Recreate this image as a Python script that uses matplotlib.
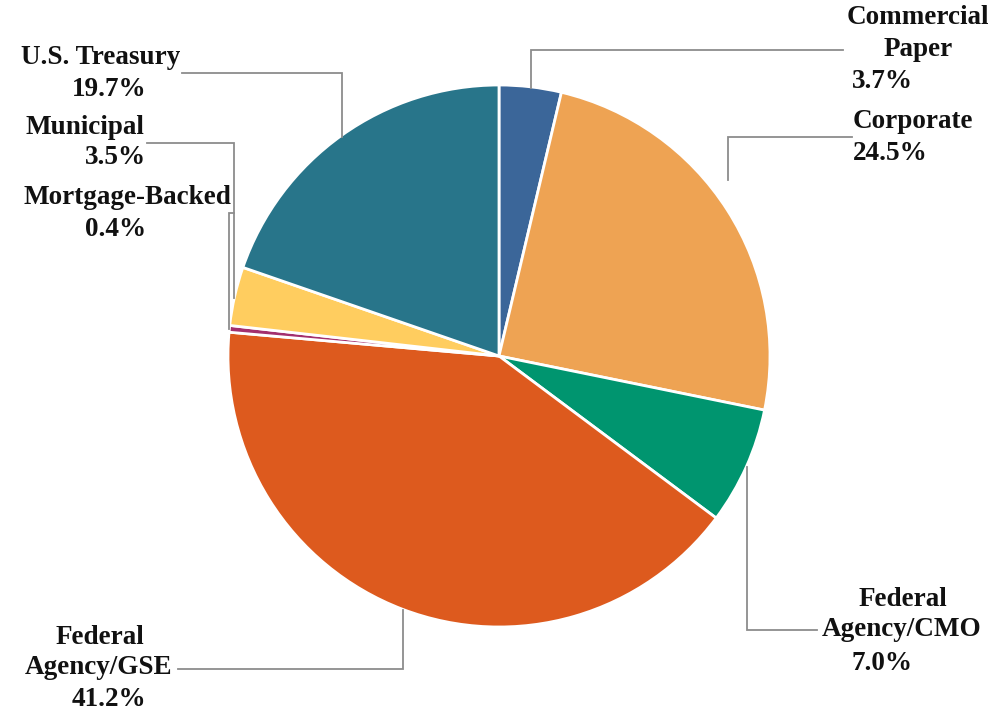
import matplotlib.pyplot as plt

# Datos
sectores = ['Commercial Paper', 'Corporate', 'Federal Agency/CMO', 'Federal Agency/GSE',
            'Mortgage-Backed', 'Municipal', 'U.S. Treasury']
porcentajes = [3.7, 24.5, 7.0, 41.2, 0.4, 3.5, 19.7]
colores = ['#3B6699', '#EEA353', '#00956F', '#DD5A1E', '#A3306E', '#FFCD5F', '#28758A']

W, H = 1008, 715
fig = plt.figure(figsize=(W / 100, H / 100), dpi=100)
ax = fig.add_axes([0, 0, 1, 1])

cx, cy, r = 499, H - 356, 271
ax.pie(porcentajes, colors=colores, startangle=90, counterclock=False,
       center=(cx, cy), radius=r, frame=True,
       wedgeprops=dict(edgecolor='white', linewidth=2))
ax.set_xlim(0, W)
ax.set_ylim(0, H)
ax.set_aspect('equal')
ax.axis('off')

fuente = dict(family='Liberation Serif', fontweight='bold', fontsize=19.5, color='#111111')

def y(v):
    return H - v

# etiquetas (texto, x, y en px de imagen, alineación)
etiquetas = [
    ('Commercial', 918, 18, 'center'), ('Paper', 918, 49, 'center'),
    ('3.7%', 852, 82, 'left'),
    ('Corporate', 853, 121, 'left'), ('24.5%', 853, 154, 'left'),
    ('Federal', 903, 599, 'center'), ('Agency/CMO', 902, 630, 'center'),
    ('7.0%', 882, 663, 'center'),
    ('Federal', 100, 637, 'center'), ('Agency/GSE', 99, 668, 'center'),
    ('41.2%', 109, 700, 'center'),
    ('U.S. Treasury', 101, 57, 'center'), ('19.7%', 146, 90, 'right'),
    ('Municipal', 85, 127, 'center'), ('3.5%', 146, 158, 'right'),
    ('Mortgage-Backed', 127, 197, 'center'), ('0.4%', 146, 230, 'right'),
]
for txt, x, yy, ha in etiquetas:
    ax.text(x, y(yy), txt, ha=ha, va='center', **fuente)

# líneas guía
guias = [
    [(531, 88), (531, 50), (843, 50)],
    [(728, 180), (728, 137), (852, 137)],
    [(747, 467), (747, 630), (817, 630)],
    [(403, 610), (403, 669), (178, 669)],
    [(182, 73), (342, 73), (342, 137)],
    [(147, 143), (234, 143), (234, 298)],
    [(234, 213), (229, 213), (229, 329)],
]
for pts in guias:
    xs = [p[0] for p in pts]
    ys = [y(p[1]) for p in pts]
    ax.plot(xs, ys, color='#8C8C8C', lw=1.3, solid_joinstyle='miter')

fig.savefig('out.png', dpi=100, facecolor='white')
